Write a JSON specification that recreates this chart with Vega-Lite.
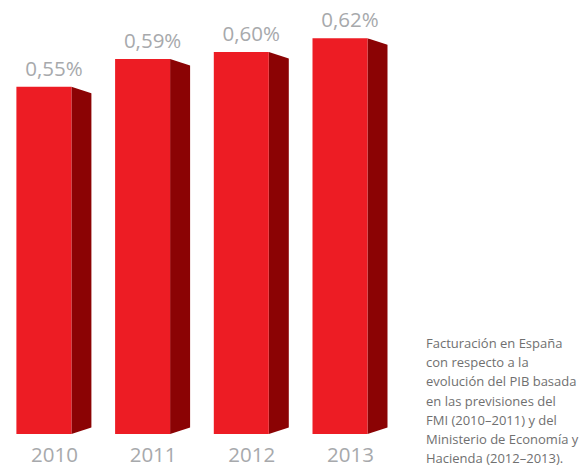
{
  "$schema": "https://vega.github.io/schema/vega-lite/v6.json",
  "autosize": {"type": "none"},
  "padding": {"left": 0, "top": 0, "right": 0, "bottom": 34},
  "width": 582,
  "height": 434,
  "background": "white",
  "config": {"view": {"stroke": null}, "font": "Open Sans"},
  "data": {"values": [
    {"year": 2010, "value": 0.55, "label": "0,55%"},
    {"year": 2011, "value": 0.59, "label": "0,59%"},
    {"year": 2012, "value": 0.60, "label": "0,60%"},
    {"year": 2013, "value": 0.62, "label": "0,62%"}
  ]},
  "layer": [
    {"mark": {"type": "bar", "width": 20, "xOffset": 37.5, "color": "#8B0304"},
     "encoding": {
       "x": {"field": "year", "type": "quantitative",
         "scale": {"domain": [2009.5552, 2015.4519], "nice": false, "zero": false, "padding": 0},
         "axis": {"values": [2010, 2011, 2012, 2013], "format": "d", "title": null, "domain": false, "ticks": false, "grid": false,
           "labelFlush": false, "labelOffset": 10, "labelPadding": 11, "labelFontSize": 20.5, "labelColor": "#A7A9AC", "labelFont": "Open Sans"}},
       "y": {"field": "value", "type": "quantitative",
         "scale": {"domain": [0.05, 0.675], "nice": false, "zero": false, "padding": 0},
         "axis": null},
       "y2": {"datum": 0.05}}},
    {"mark": {"type": "point", "filled": true, "opacity": 1, "color": "white", "strokeWidth": 0, "size": 400, "xOffset": 37.5,
      "shape": "M-1,0 L1,0.65 L1.3,0.65 L1.3,-0.3 L-1,-0.3 Z"},
     "encoding": {"x": {"field": "year", "type": "quantitative"}, "y": {"field": "value", "type": "quantitative"}}},
    {"mark": {"type": "point", "filled": true, "opacity": 1, "color": "white", "strokeWidth": 0, "size": 400, "xOffset": 37.5,
      "shape": "M-1,0 L1,-0.65 L1.3,-0.65 L1.3,0.3 L-1,0.3 Z"},
     "encoding": {"x": {"field": "year", "type": "quantitative"}, "y": {"datum": 0.05}}},
    {"mark": {"type": "bar", "width": 55, "color": "#ED1C24"},
     "encoding": {"x": {"field": "year", "type": "quantitative"}, "y": {"field": "value", "type": "quantitative"}, "y2": {"datum": 0.05}}},
    {"mark": {"type": "text", "xOffset": 10, "dy": -11, "baseline": "alphabetic", "align": "center", "fontSize": 20.5, "color": "#A7A9AC", "font": "Open Sans"},
     "encoding": {"x": {"field": "year", "type": "quantitative"}, "y": {"field": "value", "type": "quantitative"}, "text": {"field": "label", "type": "nominal"}}},
    {"data": {"values": [{"id": "nota"}]},
     "mark": {"type": "text", "align": "left", "baseline": "alphabetic", "lineHeight": 19.2, "dx": 86, "dy": -86, "fontSize": 13, "color": "#707070", "font": "Open Sans",
       "text": ["Facturación en España", "con respecto a la", "evolución del PIB basada", "en las previsiones del", "FMI (2010–2011) y del", "Ministerio de Economía y", "Hacienda (2012–2013)."]},
     "encoding": {"x": {"datum": 2013}, "y": {"datum": 0.05}}}
  ]
}
